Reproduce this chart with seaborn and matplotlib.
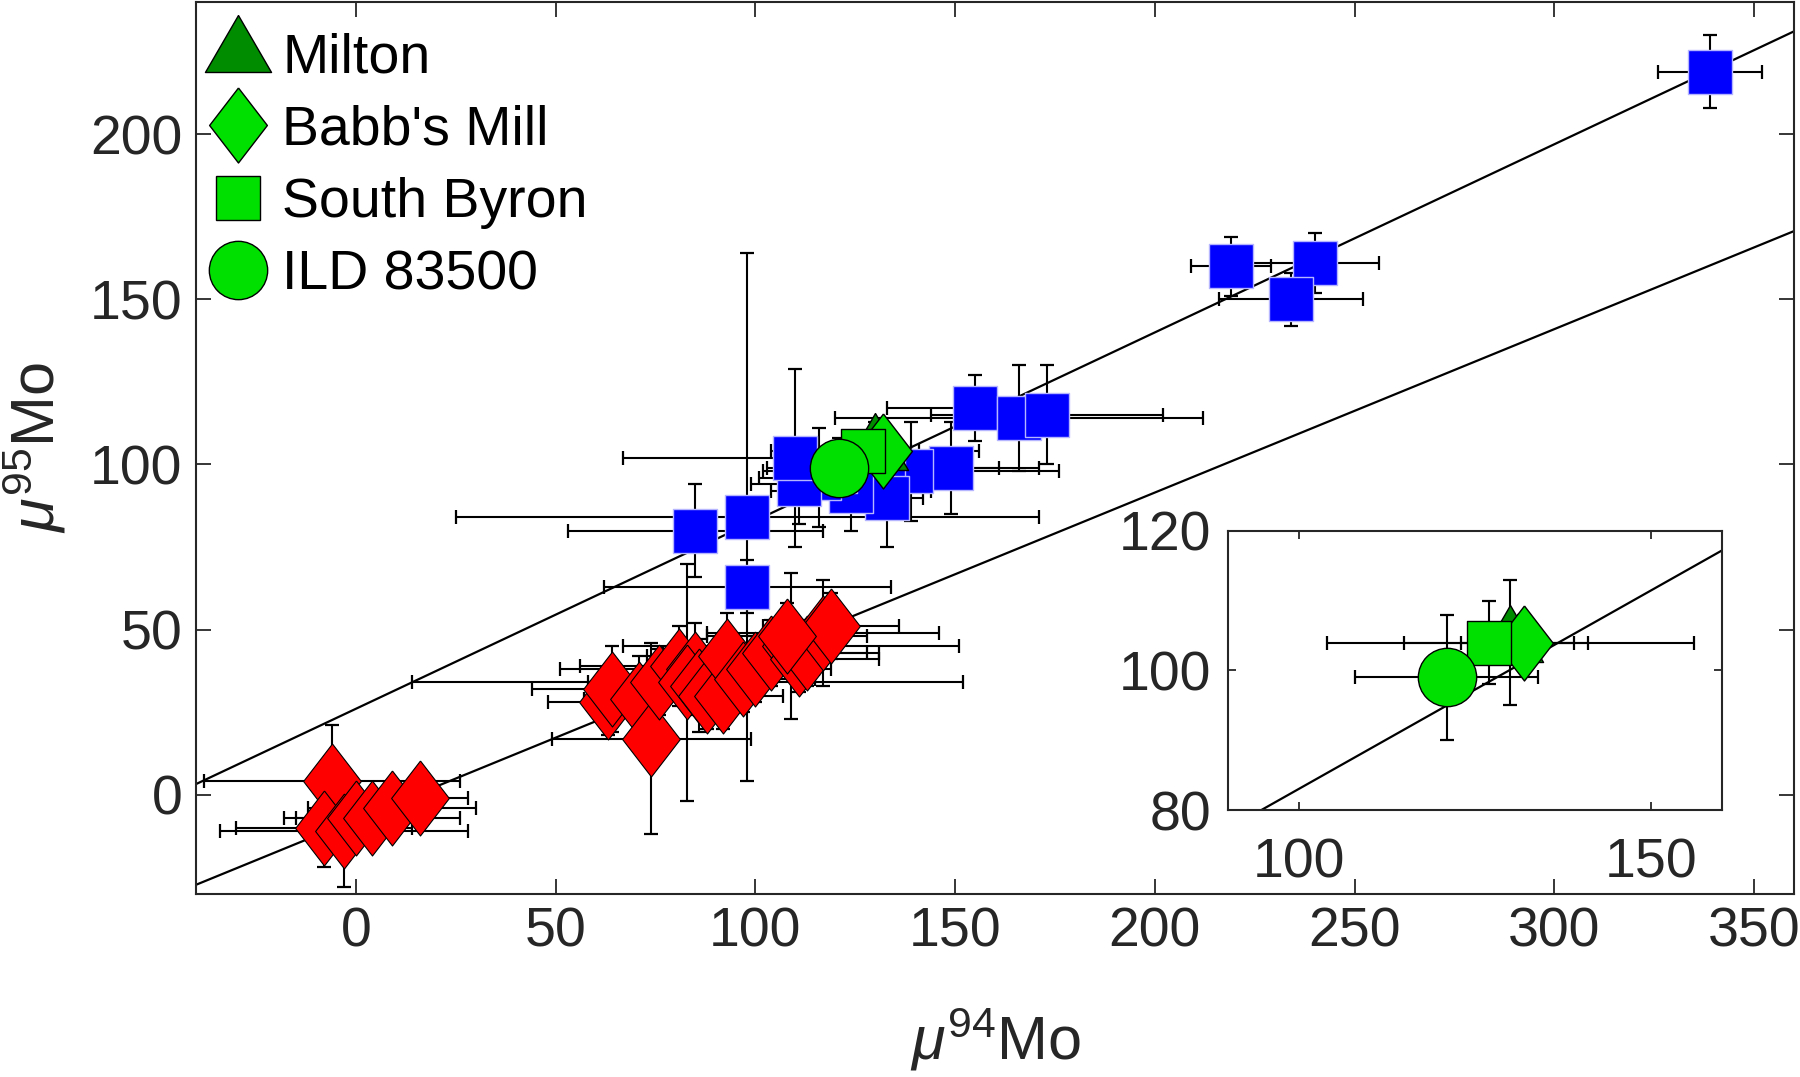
import numpy as np
import pandas as pd
import matplotlib
matplotlib.use("Agg")
import matplotlib.pyplot as plt
import seaborn as sns
from matplotlib.lines import Line2D

# red diamonds: mu94Mo, mu95Mo and their errors
red_x = [-6, -8, -3, 0, 4, 9, 16, 63, 64, 71, 74, 76, 81, 85, 83, 86, 88, 92, 93, 97, 100, 104, 109, 111, 113, 117, 119, 108]
red_y = [4, -10, -11, -7, -7, -4, -1, 28, 32, 29, 17, 34, 39, 38, 34, 33, 30, 30, 42, 35, 38, 43, 45, 41, 43, 49, 51, 48]
red_xerr = [32, 22, 31, 15, 22, 21, 12, 15, 20, 14, 25, 18, 25, 34, 69, 15, 12, 15, 20, 18, 16, 27, 42, 20, 15, 29, 17, 20]
red_yerr = [17, 12, 17, 8, 8, 8, 8, 10, 13, 13, 29, 10, 12, 14, 36, 14, 10, 10, 13, 10, 10, 10, 22, 10, 10, 16, 10, 10]

# blue squares
blue_x = [339, 219, 240, 234, 155, 166, 173, 149, 139, 132, 133, 124, 120, 116, 111, 110, 98, 85, 98]
blue_y = [219, 160, 161, 150, 117, 114, 115, 99, 98, 99, 90, 92, 98, 96, 94, 102, 84, 80, 63]
blue_xerr = [13, 10, 16, 18, 22, 46, 29, 22, 37, 29, 9, 20, 10, 15, 12, 43, 73, 32, 36]
blue_yerr = [11, 9, 9, 8, 10, 16, 15, 14, 15, 12, 15, 12, 8, 15, 12, 27, 80, 14, 8]

# green samples
green_names = ["Milton", "Babb's Mill", "South Byron", "ILD 83500"]
green_x = [130, 132, 127, 121]
green_y = [104, 104, 104, 99]
green_xerr = [26, 9, 12, 13]
green_yerr = [9, 4, 6, 9]

# reference lines (slope, intercept)
line_upper = (0.57, 26.0)
line_lower = (0.495, -7.5)

sns.set_theme(style="ticks")
plt.rcParams["font.family"] = ["Liberation Sans", "DejaVu Sans"]
plt.rcParams["mathtext.fontset"] = "custom"
plt.rcParams["mathtext.rm"] = "Liberation Sans"
plt.rcParams["mathtext.it"] = "Liberation Sans:italic"
plt.rcParams["axes.edgecolor"] = "#262626"
plt.rcParams["xtick.color"] = "#262626"
plt.rcParams["ytick.color"] = "#262626"

diamond = [(0, 1), (0.77, 0), (0, -1), (-0.77, 0), (0, 1)]
triangle = [(0, 1), (-0.87, -0.5), (0.87, -0.5), (0, 1)]
styles = [
    (triangle, 54.7, "#008c00"),
    (diamond, 54, "#00e000"),
    ("s", 32, "#00e000"),
    ("o", 42, "#00e000"),
]


def draw_points(ax, x, y, xe, ye, marker, ms, face, edge, lw, z):
    ax.errorbar(x, y, xerr=xe, yerr=ye, fmt="none", ecolor="black",
                elinewidth=1.5, capsize=5, capthick=1.6, zorder=2)
    df = pd.DataFrame({"x": x, "y": y})
    sns.scatterplot(data=df, x="x", y="y", marker=marker, s=ms ** 2, color=face,
                    edgecolor=edge, linewidth=lw, ax=ax, zorder=z, legend=False)


def draw_line(ax, xs, coef):
    xs = np.array(xs, dtype=float)
    ax.plot(xs, coef[0] * xs + coef[1], color="black", lw=1.6, zorder=1)


fig = plt.figure(figsize=(18, 10.77), dpi=100)
ax = fig.add_axes([0.1089, 0.1702, 0.8878, 0.8277])

draw_line(ax, [-40, 360], line_upper)
draw_line(ax, [-40, 360], line_lower)
draw_points(ax, red_x, red_y, red_xerr, red_yerr, diamond, 54, "#ff0000", "black", 0.8, 3)
draw_points(ax, blue_x, blue_y, blue_xerr, blue_yerr, "s", 32, "#0000ff", "#b4b4ff", 1.0, 4)
for i in range(len(green_names)):
    m, ms, c = styles[i]
    draw_points(ax, [green_x[i]], [green_y[i]], [green_xerr[i]], [green_yerr[i]], m, ms, c, "black", 1.0, 5 + i)

ax.set_xlim(-40, 360)
ax.set_ylim(-30, 240)
ax.set_xticks(range(0, 351, 50))
ax.set_yticks(range(0, 201, 50))
ax.tick_params(direction="in", length=11, width=1.3, labelsize=40, top=True, right=True)
ax.tick_params(axis="x", pad=9)
ax.tick_params(axis="y", pad=10)
for s in ax.spines.values():
    s.set_linewidth(1.5)
    s.set_visible(True)
ax.set_xlabel(r"$\mu^{94}$Mo", fontsize=44, color="#262626")
ax.set_ylabel(r"$\mu^{95}$Mo", fontsize=44, color="#262626")
ax.xaxis.set_label_coords(0.5, -0.125)
ax.yaxis.set_label_coords(-0.08, 0.5)

handles = []
for i, name in enumerate(green_names):
    m, ms, c = styles[i]
    handles.append(Line2D([], [], linestyle="none", marker=m, markersize=ms,
                          markerfacecolor=c, markeredgecolor="black", markeredgewidth=1.0))
ax.legend(handles, green_names, loc="upper left", bbox_to_anchor=(0, 0.982),
          frameon=False, fontsize=40, labelcolor="black",
          handlelength=1.0, handletextpad=0.3, labelspacing=0.37,
          borderaxespad=0.1, borderpad=0.15)

# inset zoom on the green samples
axi = fig.add_axes([0.6822, 0.2479, 0.2744, 0.2591])
draw_line(axi, [80, 170], line_upper)
for i in range(len(green_names)):
    m, ms, c = styles[i]
    draw_points(axi, [green_x[i]], [green_y[i]], [green_xerr[i]], [green_yerr[i]], m, ms, c, "black", 1.0, 5 + i)
axi.set_xlim(90, 160)
axi.set_ylim(80, 120)
axi.set_xticks([100, 150])
axi.set_yticks([80, 100, 120])
axi.tick_params(direction="in", length=6, width=1.3, labelsize=40, top=True, right=True)
axi.tick_params(axis="x", pad=20)
axi.tick_params(axis="y", pad=12)
axi.set_xlabel("")
axi.set_ylabel("")
for s in axi.spines.values():
    s.set_linewidth(1.5)

fig.savefig("out.png", dpi=100)
